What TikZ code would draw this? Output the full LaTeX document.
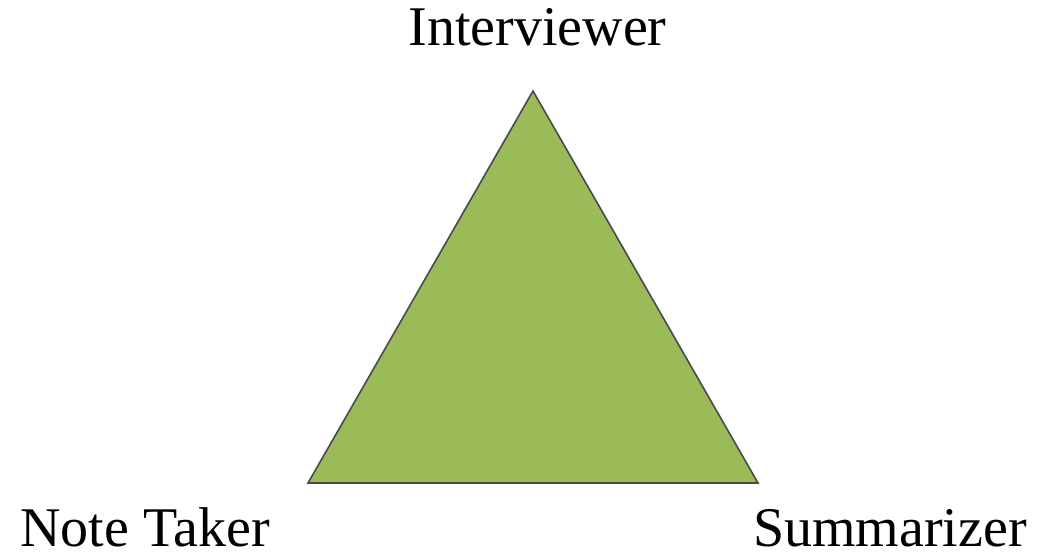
\documentclass[tikz,border=0pt]{standalone}
\usepackage{fontspec}
\setmainfont{Liberation Serif}
\definecolor{trigreen}{HTML}{9BBB59}
\definecolor{triedge}{HTML}{4A4A4A}
\tikzset{
  role/.style={anchor=base, inner sep=0pt, font=\fontsize{56}{60}\selectfont},
  tri/.style={fill=trigreen, draw=triedge, line width=1.6pt, line join=miter}
}
\begin{document}
\begin{tikzpicture}[x=1pt, y=-1pt]
\useasboundingbox (0,0) rectangle (1061,556);
\coordinate (top) at (533,91);
\coordinate (bl) at (308,483);
\coordinate (br) at (758,483);
\draw[tri] (top) -- (br) -- (bl) -- cycle;
\node[role] (interviewer) at (537.5,46) {Interviewer};
\node[role] (notetaker) at (145,546) {Note Taker};
\node[role] (summarizer) at (890,546) {Summarizer};
\end{tikzpicture}
\end{document}
